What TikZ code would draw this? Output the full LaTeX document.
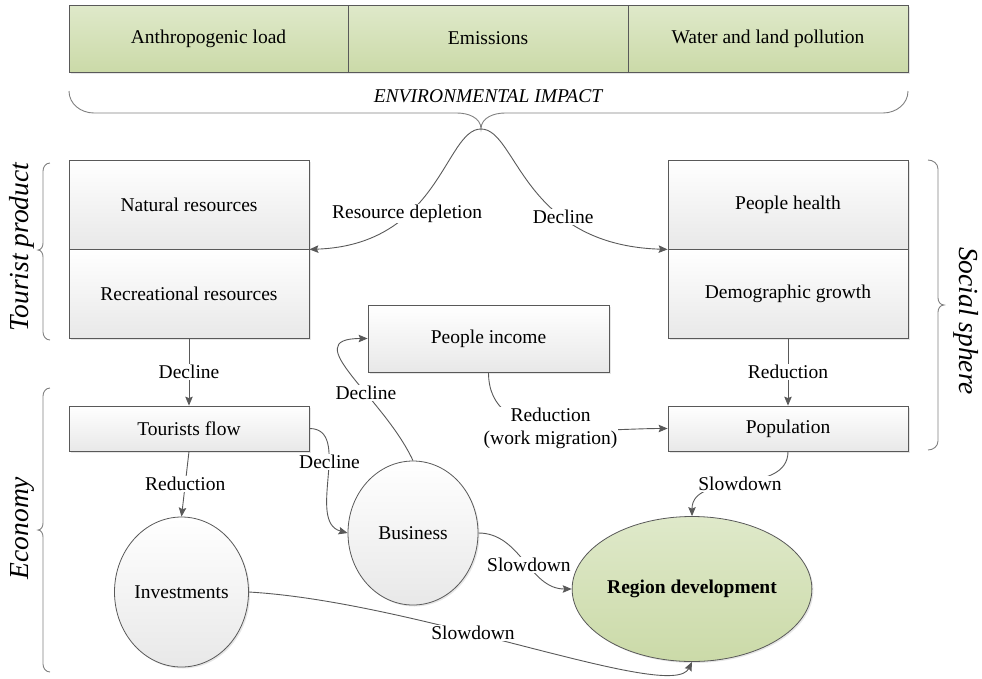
\documentclass[tikz,border=0pt]{standalone}
\usepackage{fontspec}
\setmainfont{Liberation Serif}
\usetikzlibrary{arrows.meta,shapes.geometric,shadows}
\definecolor{edgegray}{HTML}{595959}
\definecolor{leaftop}{HTML}{DFE9CA}
\definecolor{leafbot}{HTML}{CBDAA8}

\begin{document}
\begin{tikzpicture}[x=1pt,y=-1pt,
  font=\rmfamily\fontsize{19.5}{23}\selectfont,
  >={Stealth[length=9pt,width=7.5pt,inset=1.5pt]},
  box/.style={draw=edgegray,line width=0.8pt,inner sep=0pt,top color=white,bottom color=black!9,
    drop shadow={opacity=0.2,shadow xshift=1.5pt,shadow yshift=-1.5pt}},
  greenbox/.style={box,top color=leaftop,bottom color=leafbot},
  oval/.style={box,ellipse},
  link/.style={draw=edgegray,line width=0.9pt,->},
  lbl/.style={fill=white,inner sep=1pt},
  brace/.style={draw=gray,line width=0.9pt},
  side/.style={font=\rmfamily\fontsize{27.5}{32}\selectfont\itshape}]
\useasboundingbox (0,0) rectangle (982,678);

% environmental impact
\node[greenbox,minimum width=279pt,minimum height=67pt] (load) at (208.5,38.5) {Anthropogenic load};
\node[greenbox,minimum width=280pt,minimum height=67pt] (emis) at (488,38.5) {Emissions};
\node[greenbox,minimum width=280pt,minimum height=67pt] (poll) at (768,38.5) {Water and land pollution};

\draw[brace] (69,91) to[out=-90,in=180] (94,113) -- (457,113) to[out=0,in=90] (481,129) coordinate (tip)
  to[out=90,in=180] (505,113) -- (883,113) to[out=0,in=-90] (908,91);
\node[font=\rmfamily\fontsize{19.5}{23}\selectfont\itshape] (envi) at (488,96) {ENVIRONMENTAL IMPACT};

% tourist product and social sphere
\node[box,minimum width=240pt,minimum height=89pt] (nat) at (189,204.5) {Natural resources};
\node[box,minimum width=240pt,minimum height=89pt] (rec) at (189,293.5) {Recreational resources};
\node[box,minimum width=240pt,minimum height=89pt] (health) at (788,204.5) {People health};
\node[box,minimum width=240pt,minimum height=89pt] (demo) at (788,293.5) {Demographic growth};

% economy
\node[box,minimum width=241pt,minimum height=67pt] (income) at (488.5,338.5) {People income};
\node[box,minimum width=240pt,minimum height=45pt] (tflow) at (189,428.5) {Tourists flow};
\node[box,minimum width=240pt,minimum height=45pt] (pop) at (788,428.5) {Population};
\node[oval,minimum width=134pt,minimum height=150pt] (inv) at (181.5,592) {Investments};
\node[oval,minimum width=130pt,minimum height=144pt] (bus) at (413,533) {Business};
\node[oval,top color=leaftop,bottom color=leafbot,minimum width=225pt,minimum height=145pt,
  font=\rmfamily\fontsize{19.5}{23}\selectfont\bfseries] (reg) at (692,589) {Region development};

% side braces
\node[side,rotate=90] (tprod) at (22,247) {Tourist product};
\node[side,rotate=90] (econ) at (22,528) {Economy};
\node[side,rotate=-90] (soc) at (966,321) {Social sphere};

\draw[brace] (50,163) to[out=180,in=90] (43,171) -- (43,243) to[out=-90,in=0] (38,250)
  to[out=0,in=90] (43,257) -- (43,332) to[out=-90,in=180] (50,340);
\draw[brace] (50,388) to[out=180,in=90] (43,396) -- (43,523) to[out=-90,in=0] (38,530)
  to[out=0,in=90] (43,537) -- (43,664) to[out=-90,in=180] (50,672);
\draw[brace] (928,160) to[out=0,in=90] (938,169) -- (938,298) to[out=-90,in=180] (944,305)
  to[out=180,in=90] (938,312) -- (938,441) to[out=-90,in=0] (928,450);

% connectors
\draw[link] (tip) .. controls (445,129) and (440,245) .. node[lbl,pos=0.65] {Resource depletion} (nat.south east);
\draw[link] (tip) .. controls (517,129) and (522,245) .. node[lbl,pos=0.67] {Decline} (health.south west);

\draw[link] (rec.south) -- node[lbl] {Decline} (tflow.north);
\draw[link] (demo.south) -- node[lbl] {Reduction} (pop.north);
\draw[link] (tflow.south) -- node[lbl] {Reduction} (inv.north);
\draw[link] (tflow.east) to[out=0,in=165] node[lbl,pos=0.4] {Decline} (bus.west);
\draw[link] (bus.north) to[out=115,in=180,looseness=1.4] node[lbl,pos=0.38] {Decline} (income.west);
\draw[link] (income.south) to[out=-90,in=180] node[lbl,align=center] {Reduction\\(work migration)} (pop.west);
\draw[link] (pop.south) to[out=-90,in=90] node[lbl] {Slowdown} (reg.north);
\draw[link] (bus.east) to[out=0,in=180] node[lbl,pos=0.55] {Slowdown} (reg.west);
\draw[link] (inv.east) .. controls (420,602) and (672,703) .. node[lbl,pos=0.4] {Slowdown} (reg.south);

\end{tikzpicture}
\end{document}
